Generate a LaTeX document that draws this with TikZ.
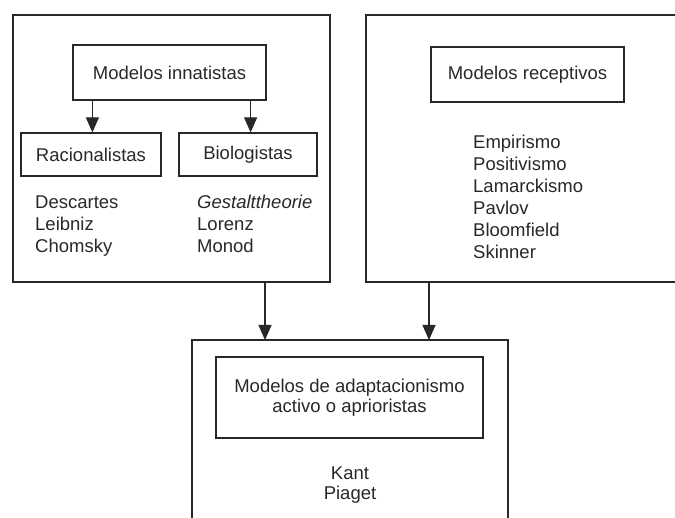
\documentclass[tikz,border=0pt]{standalone}
\usepackage{fontspec}
\setmainfont{Liberation Sans}
\usetikzlibrary{arrows.meta}
\definecolor{ink}{RGB}{40,40,40}
\tikzset{
  box/.style={draw=ink, line width=1.2pt, rectangle, inner sep=0pt, text=ink},
  frame/.style={draw=ink, line width=1.4pt},
  item/.style={anchor=base west, inner sep=0pt, text=ink},
  citem/.style={anchor=base, inner sep=0pt, text=ink},
  arr/.style={draw=ink, line width=1.2pt, -{Triangle[width=13pt,length=15pt]}},
}
\begin{document}
\begin{tikzpicture}[x=1pt,y=-1pt, font=\fontsize{18.5}{21.8}\selectfont]
\useasboundingbox (0,0) rectangle (675,518);
% left frame
\node[box, line width=1.4pt, minimum width=317pt, minimum height=267pt] (L) at (171.5,148.5) {};
\node[box, minimum width=193pt, minimum height=55pt] (innat) at (169.5,72.5) {Modelos innatistas};
\node[box, minimum width=140pt, minimum height=43pt] (rac) at (91,154.5) {Racionalistas};
\node[box, minimum width=138pt, minimum height=43pt] (bio) at (248,154.5) {Biologistas};
\draw[arr] ([xshift=20pt]innat.south west) -- ([xshift=20pt]innat.south west |- rac.north);
\draw[arr] ([xshift=-16pt]innat.south east) -- ([xshift=-16pt]innat.south east |- bio.north);
\node[item] (d1) at (35,209) {Descartes};
\node[item] (d2) at (35,231) {Leibniz};
\node[item] (d3) at (35,252.5) {Chomsky};
\node[item] (g1) at (197,209) {\itshape Gestalttheorie};
\node[item] (g2) at (197,231) {Lorenz};
\node[item] (g3) at (197,252.5) {Monod};
% right frame (open at right)
\coordinate (R1) at (675,15);
\coordinate (R2) at (366,15);
\coordinate (R3) at (366,282);
\coordinate (R4) at (675,282);
\draw[frame] (R1) -- (R2) -- (R3) -- (R4);
\node[box, minimum width=193pt, minimum height=55pt] (recep) at (527.5,74.5) {Modelos receptivos};
\node[item] (e1) at (473,149) {Empirismo};
\node[item] (e2) at (473,171) {Positivismo};
\node[item] (e3) at (473,193) {Lamarckismo};
\node[item] (e4) at (473,215) {Pavlov};
\node[item] (e5) at (473,237) {Bloomfield};
\node[item] (e6) at (473,258.5) {Skinner};
% bottom frame (open at bottom)
\coordinate (B1) at (192,518);
\coordinate (B2) at (192,340);
\coordinate (B3) at (508,340);
\coordinate (B4) at (508,518);
\draw[frame] (B1) -- (B2) -- (B3) -- (B4);
\node[box, minimum width=267pt, minimum height=81pt, align=center, font=\fontsize{18.5}{20}\selectfont] (adapt) at (349.5,397.5) {Modelos de adaptacionismo\\activo o aprioristas};
\node[citem] (k1) at (350,479) {Kant};
\node[citem] (k2) at (350,500) {Piaget};
% connectors
\coordinate (La) at ([xshift=93.5pt]L.south);
\coordinate (Ra) at ([xshift=63pt]R3);
\draw[arr] (La) -- (La |- B2);
\draw[arr] (Ra) -- (Ra |- B2);
\end{tikzpicture}
\end{document}
